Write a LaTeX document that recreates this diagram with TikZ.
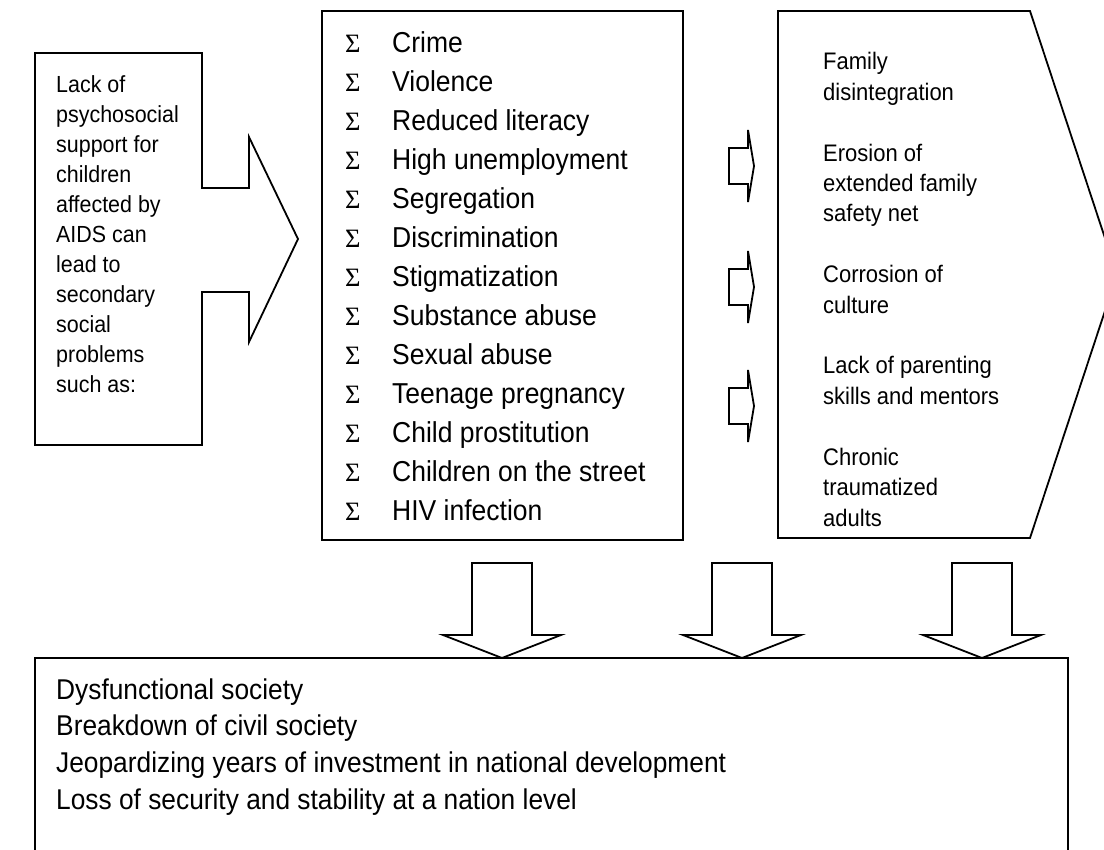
\documentclass[tikz,border=0pt]{standalone}
\usepackage{fontspec}
\setmainfont{Liberation Sans}[FakeStretch=0.92]
\newfontfamily\bulletfont{Liberation Serif}
\begin{document}
\begin{tikzpicture}[x=1pt, y=-1pt,
  outline/.style={draw=black, line width=1.8pt, line join=miter},
  leftline/.style={anchor=base west, inner sep=0pt, font=\fontsize{23.3}{28}\selectfont},
  listline/.style={anchor=base west, inner sep=0pt, font=\fontsize{28.8}{34}\selectfont},
  bulletmark/.style={anchor=base west, inner sep=0pt, font=\bulletfont\fontsize{26.5}{32}\selectfont},
  rightline/.style={anchor=base west, inner sep=0pt, font=\fontsize{23.9}{28}\selectfont},
  bottomline/.style={anchor=base west, inner sep=0pt, font=\fontsize{28.6}{34}\selectfont},
]
\useasboundingbox (0,0) rectangle (1104,850);
\begin{scope}
\clip (0,0) rectangle (1104,850);

% cause: box with a right-pointing arrow
\draw[outline] (35,53) -- (202,53) -- (202,188) -- (249,188) -- (249,137)
  -- (298,239) -- (249,342) -- (249,292) -- (202,292) -- (202,445)
  -- (35,445) -- cycle;
\foreach \t [count=\i] in {Lack of, psychosocial, support for, children,
  affected by, AIDS can, lead to, secondary, social, problems, such as:}
  \node[leftline] (cause\i) at (56,{93+30*(\i-1)}) {\t};

% secondary social problems
\draw[outline] (322,11) rectangle (683,540);
\foreach \t [count=\i] in {Crime, Violence, Reduced literacy, High unemployment,
  Segregation, Discrimination, Stigmatization, Substance abuse, Sexual abuse,
  Teenage pregnancy, Child prostitution, Children on the street, HIV infection}
{
  \node[bulletmark] (mark\i) at (345,{52.3+39*(\i-1)}) {Σ};
  \node[listline] (problem\i) at (392,{52.3+39*(\i-1)}) {\t};
}

% small block arrows between the two columns
\foreach \cy [count=\i] in {166,287,406}
  \draw[outline] (729,\cy-18) -- (748,\cy-18) -- (748,\cy-36) -- (754,\cy)
    -- (748,\cy+36) -- (748,\cy+18) -- (729,\cy+18) -- cycle;

% consequences: pentagon arrow
\draw[outline] (778,11) -- (1030,11) -- (1117,274.5) -- (1030,538)
  -- (778,538) -- cycle;
\foreach \t/\k [count=\i] in {Family/0, disintegration/1, Erosion of/3,
  extended family/4, safety net/5, Corrosion of/7, culture/8,
  Lack of parenting/10, skills and mentors/11, Chronic/13, traumatized/14,
  adults/15}
  \node[rightline] (effect\i) at (823,{70+30.4*\k}) {\t};

% down arrows into the outcome box
\foreach \cx [count=\i] in {502,742,982}
  \draw[outline] (\cx-30,563) -- (\cx+30,563) -- (\cx+30,635) -- (\cx+59,635)
    -- (\cx,658) -- (\cx-59,635) -- (\cx-30,635) -- cycle;

% outcome box
\draw[outline] (35,658) rectangle (1068,870);
\foreach \t [count=\i] in {Dysfunctional society, Breakdown of civil society,
  Jeopardizing years of investment in national development,
  Loss of security and stability at a nation level}
  \node[bottomline] (outcome\i) at (56,{699+36.7*(\i-1)}) {\t};
\end{scope}
\end{tikzpicture}
\end{document}
